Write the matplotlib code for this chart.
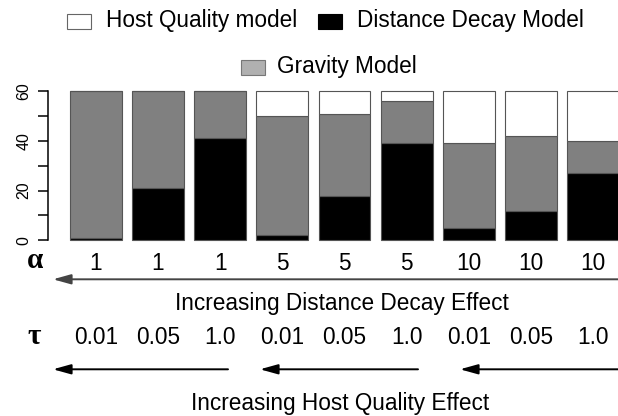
import matplotlib as mpl
mpl.use('Agg')
import matplotlib.pyplot as plt
import matplotlib.transforms as mtransforms
from matplotlib.patches import Rectangle
import numpy as np

# data (counts out of 60)
distance_decay = [1, 21, 41, 2, 18, 39, 5, 12, 27]
gravity = [59, 39, 19, 48, 33, 17, 34, 30, 13]
host_quality = [0, 0, 0, 10, 9, 4, 21, 18, 20]
alpha_labels = ['1', '1', '1', '5', '5', '5', '10', '10', '10']
tau_labels = ['0.01', '0.05', '1.0', '0.01', '0.05', '1.0', '0.01', '0.05', '1.0']

W, H = 618, 416
plt.rcParams['font.family'] = ['Liberation Sans', 'DejaVu Sans']

fig = plt.figure(figsize=(W / 100, H / 100), dpi=100)

def px(x, y):
    # pixel coords (top-left origin) -> figure fraction
    return x / W, 1 - y / H

ax = fig.add_axes([48.3 / W, 1 - 240.3 / H, (W - 48.3) / W, 149 / H])

x = 0.7 + 1.2 * np.arange(len(distance_decay))
b1 = np.array(distance_decay)
b2 = b1 + np.array(gravity)
edge = '#555555'
ax.bar(x, distance_decay, width=1, color='black', edgecolor=edge, lw=0.8, clip_on=False)
ax.bar(x, gravity, width=1, bottom=b1, color='#808080', edgecolor=edge, lw=0.8, clip_on=False)
ax.bar(x, host_quality, width=1, bottom=b2, color='white', edgecolor=edge, lw=0.8, clip_on=False)

ax.set_xlim(-0.216, 10.78)
ax.set_ylim(0, 60)
for s in ['top', 'right', 'bottom']:
    ax.spines[s].set_visible(False)
ax.spines['left'].set_bounds(0, 60)
ax.spines['left'].set_linewidth(1.1)
ax.set_xticks([])
ax.set_yticks(range(0, 61, 10))
ax.set_yticklabels(['0', '', '20', '', '40', '', '60'], rotation=90, va='center', fontsize=11.5)
ax.tick_params(axis='y', length=7, width=1.1, pad=5)

# legend
def box(x0, y0, color, ec):
    fx, fy = px(x0, y0 + 15)
    fig.add_artist(Rectangle((fx, fy), 24 / W, 15 / H, transform=fig.transFigure,
                             facecolor=color, edgecolor=ec, lw=0.8))

fs = 16.3
box(67, 14, 'white', '#666666')
fig.text(*px(106, 21), 'Host Quality model', fontsize=fs, va='center', ha='left')
box(318, 14, 'black', 'black')
fig.text(*px(357, 21), 'Distance Decay Model', fontsize=fs, va='center', ha='left')
box(241, 60, '#b0b0b0', '#777777')
fig.text(*px(277, 67), 'Gravity Model', fontsize=fs, va='center', ha='left')

# parameter rows under the bars
trans = mtransforms.blended_transform_factory(ax.transData, fig.transFigure)
for xi, a, t in zip(x, alpha_labels, tau_labels):
    ax.text(xi, px(0, 263)[1], a, transform=trans, ha='center', va='center', fontsize=fs, clip_on=False)
    ax.text(xi, px(0, 338)[1], t, transform=trans, ha='center', va='center', fontsize=fs, clip_on=False)

greek = ['Liberation Serif', 'DejaVu Serif']
fig.text(*px(35, 261), 'α', fontsize=21, family=greek, weight='bold', ha='center', va='center')
fig.text(*px(34, 336), 'τ', fontsize=21, family=greek, weight='bold', ha='center', va='center')

def arrow(x_from, x_to, y, color):
    fig.add_artist(mpl.patches.FancyArrowPatch(px(x_from, y), px(x_to, y), transform=fig.transFigure,
                   arrowstyle='-|>,head_length=0.9,head_width=0.25', mutation_scale=12,
                   color=color, lw=1.4, shrinkA=0, shrinkB=0))

arrow(620, 53, 279.3, '#444444')
arrow(228, 53, 369.3, 'black')
arrow(418, 260, 369.3, 'black')
arrow(620, 460, 369.3, 'black')

fig.text(*px(341.5, 303.5), 'Increasing Distance Decay Effect', fontsize=fs, ha='center', va='center')
fig.text(*px(340, 403.5), 'Increasing Host Quality Effect', fontsize=fs, ha='center', va='center')

plt.savefig('out.png', dpi=100)
